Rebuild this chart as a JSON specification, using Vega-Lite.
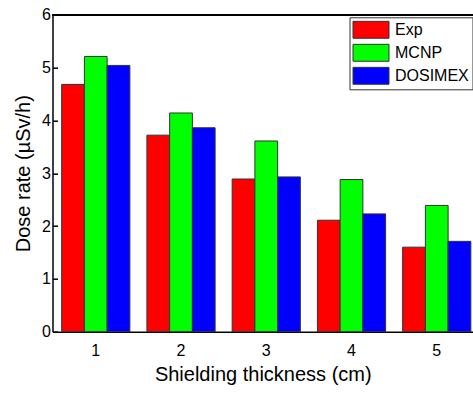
{
  "$schema": "https://vega.github.io/schema/vega-lite/v6.json",
  "width": 420.5,
  "height": 317,
  "autosize": {"type": "none"},
  "padding": {"left": 52.5, "top": 14.7, "right": 0, "bottom": 62.3},
  "background": "white",
  "config": {
    "font": "Liberation Sans",
    "view": {"stroke": null},
    "axis": {"grid": false}
  },
  "data": {
    "values": [
      {"thickness": "1", "method": "Exp", "dose": 4.68},
      {"thickness": "1", "method": "MCNP", "dose": 5.21},
      {"thickness": "1", "method": "DOSIMEX", "dose": 5.04},
      {"thickness": "2", "method": "Exp", "dose": 3.72},
      {"thickness": "2", "method": "MCNP", "dose": 4.14},
      {"thickness": "2", "method": "DOSIMEX", "dose": 3.86},
      {"thickness": "3", "method": "Exp", "dose": 2.89},
      {"thickness": "3", "method": "MCNP", "dose": 3.61},
      {"thickness": "3", "method": "DOSIMEX", "dose": 2.93},
      {"thickness": "4", "method": "Exp", "dose": 2.11},
      {"thickness": "4", "method": "MCNP", "dose": 2.88},
      {"thickness": "4", "method": "DOSIMEX", "dose": 2.23},
      {"thickness": "5", "method": "Exp", "dose": 1.60},
      {"thickness": "5", "method": "MCNP", "dose": 2.39},
      {"thickness": "5", "method": "DOSIMEX", "dose": 1.71}
    ]
  },
  "layer": [
    {
      "mark": {"type": "bar", "stroke": "#333333", "strokeWidth": 1},
      "encoding": {
        "x": {
          "field": "thickness",
          "type": "nominal",
          "scale": {"paddingInner": 0.2, "paddingOuter": 0.0664, "align": 0.81},
          "axis": {
            "title": "Shielding thickness (cm)",
            "titleFontSize": 20,
            "titleFontWeight": "normal",
            "titleColor": "black",
            "titlePadding": 6,
            "labelFontSize": 16,
            "labelColor": "black",
            "labelAngle": 0,
            "labelPadding": 11,
            "ticks": false,
            "domainColor": "black",
            "domainWidth": 1.5
          }
        },
        "xOffset": {"field": "method", "sort": ["Exp", "MCNP", "DOSIMEX"]},
        "y": {
          "field": "dose",
          "type": "quantitative",
          "scale": {"domain": [0, 6], "nice": false},
          "axis": {
            "title": "Dose rate (µSv/h)",
            "titleFontSize": 20,
            "titleFontWeight": "normal",
            "titleColor": "black",
            "titlePadding": 8,
            "labelFontSize": 16,
            "labelColor": "black",
            "labelPadding": 7,
            "values": [0, 0.5, 1, 1.5, 2, 2.5, 3, 3.5, 4, 4.5, 5, 5.5, 6],
            "labelExpr": "datum.value % 1 === 0 ? datum.label : ''",
            "tickSize": {"condition": {"test": "datum.value % 1 !== 0", "value": -3}, "value": -5},
            "tickColor": "black",
            "tickWidth": 1.5,
            "domainColor": "black",
            "domainWidth": 1.5
          }
        },
        "color": {
          "field": "method",
          "type": "nominal",
          "sort": ["Exp", "MCNP", "DOSIMEX"],
          "scale": {"domain": ["Exp", "MCNP", "DOSIMEX"], "range": ["#ff0000", "#00ff00", "#0000ff"]},
          "legend": {
            "title": null,
            "orient": "none",
            "legendX": 297,
            "legendY": 2.6,
            "labelFontSize": 16,
            "labelColor": "black",
            "symbolType": "M-1,-0.94H3V0.94H-1Z",
            "symbolSize": 324,
            "symbolStrokeColor": "#333333",
            "symbolStrokeWidth": 1,
            "symbolOpacity": 1,
            "rowPadding": 2,
            "padding": 3,
            "strokeColor": "#333333",
            "fillColor": "white",
            "labelOffset": 23.5
          }
        }
      }
    },
    {
      "mark": {"type": "rule", "color": "black", "strokeWidth": 1.5},
      "encoding": {"y": {"datum": 6}}
    }
  ]
}
